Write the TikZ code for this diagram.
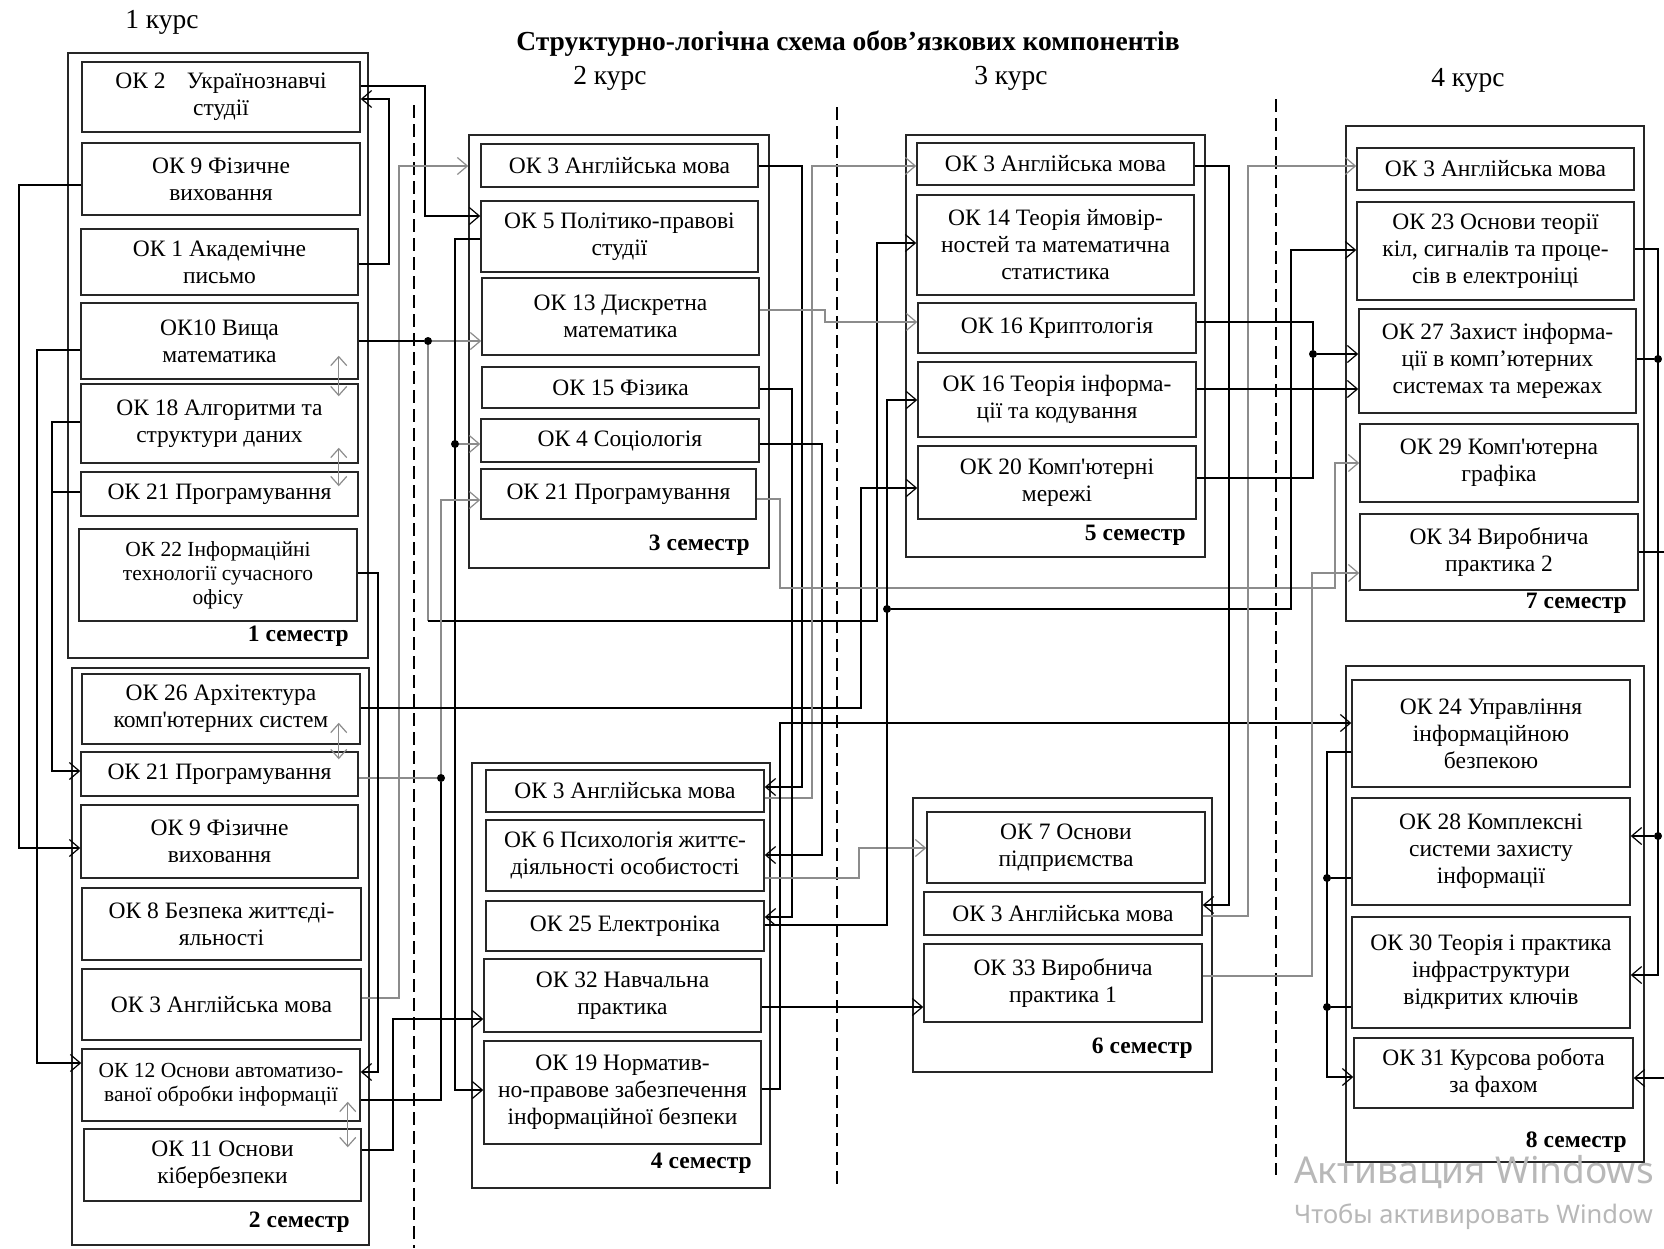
\documentclass[tikz,border=0pt]{standalone}
\usepackage{fontspec}
\setmainfont{Liberation Serif}
\newfontfamily\wmfont{Noto Sans}
\usetikzlibrary{arrows.meta}
\newcommand{\apos}{\textquotesingle}
\tikzset{
  box/.style={draw=black!85, line width=1.5pt, inner sep=0pt, align=center, font={\fontsize{23.5}{27}\selectfont}},
  sbox/.style={box, font={\fontsize{21.5}{24}\selectfont}},
  sem/.style={draw=black!85, line width=1.5pt, inner sep=0pt},
  semlab/.style={anchor=east, inner sep=0pt, font={\bfseries\fontsize{23.5}{27}\selectfont}},
  kurs/.style={inner sep=0pt, font={\fontsize{27.5}{30}\selectfont}},
  conn/.style={line width=1.2pt, draw=black},
  gconn/.style={line width=1.2pt, draw=black!45},
  arr/.style={-{Straight Barb[length=10pt,width=17pt,line width=1.2pt]}},
  dbl/.style={line width=1.2pt, draw=black!45, {Straight Barb[length=9pt,width=16pt,line width=1.2pt]}-{Straight Barb[length=9pt,width=16pt,line width=1.2pt]}},
  jdot/.style={circle, fill=black, inner sep=0pt, minimum size=8pt},
  divline/.style={line width=1.2pt, dash pattern=on 13pt off 6pt},
  wm/.style={inner sep=0pt, anchor=west, text=black!28},
}
\begin{document}
\begin{tikzpicture}[x=1pt,y=-1pt]
\useasboundingbox (0,0) rectangle (1664,1248);
\clip (0,0) rectangle (1664,1248);
\fill[white] (0,0) rectangle (1664,1248);

% titles
\node[inner sep=0pt, font={\bfseries\fontsize{27.5}{30}\selectfont}] (title) at (848,44) {Структурно-логічна схема обов’язкових компонентів};
\node[kurs] (k1) at (162,22) {1 курс};
\node[kurs] (k2) at (610,78) {2 курс};
\node[kurs] (k3) at (1011,78) {3 курс};
\node[kurs] (k4) at (1468,80) {4 курс};

% dividers
\draw[divline] (414,105) -- (414,1248);
\draw[divline] (837,107) -- (837,1188);
\draw[divline] (1276,99) -- (1276,1175);

% semester frames
\node[sem, minimum width=300pt, minimum height=605pt] (s1) at (218,355.5) {};
\node[sem, minimum width=297pt, minimum height=577pt] (s2) at (220.5,956.5) {};
\node[sem, minimum width=300pt, minimum height=433pt] (s3) at (619,351.5) {};
\node[sem, minimum width=298pt, minimum height=425pt] (s4) at (621,975.5) {};
\node[sem, minimum width=299pt, minimum height=422pt] (s5) at (1055.5,346) {};
\node[sem, minimum width=299pt, minimum height=274pt] (s6) at (1062.5,935) {};
\node[sem, minimum width=298pt, minimum height=495pt] (s7) at (1495,373.5) {};
\node[sem, minimum width=298pt, minimum height=496pt] (s8) at (1495,914) {};

% semester 1
\node[box, minimum width=278pt, minimum height=70pt] (ok2) at (221,97) {ОК 2\hspace{0.9em}Українознавчі\\студії};
\node[box, minimum width=278pt, minimum height=72pt] (ok9a) at (221,179) {ОК 9 Фізичне\\виховання};
\node[box, minimum width=277pt, minimum height=66pt] (ok1) at (219.5,262) {ОК 1 Академічне\\письмо};
\node[box, minimum width=277pt, minimum height=76pt] (ok10) at (219.5,341) {ОК10 Вища\\математика};
\node[box, minimum width=277pt, minimum height=79pt] (ok18) at (219.5,423.5) {ОК 18 Алгоритми та\\структури даних};
\node[box, minimum width=277pt, minimum height=44pt] (ok21a) at (219.5,494) {ОК 21 Програмування};
\node[sbox, minimum width=278pt, minimum height=92pt] (ok22) at (218,575) {ОК 22 Інформаційні\\технології сучасного\\офісу};
\node[semlab] (l1) at (349,636) {1 семестр};

% semester 2
\node[box, minimum width=278pt, minimum height=70pt] (ok26) at (221,709) {ОК 26 Архітектура\\комп\apos ютерних систем};
\node[box, minimum width=277pt, minimum height=44pt] (ok21b) at (219.5,774) {ОК 21 Програмування};
\node[box, minimum width=277pt, minimum height=73pt] (ok9b) at (219.5,841.5) {ОК 9 Фізичне\\виховання};
\node[box, minimum width=279pt, minimum height=72pt] (ok8) at (221.5,924) {ОК 8 Безпека життєді-\\яльності};
\node[box, minimum width=279pt, minimum height=71pt] (ok3b) at (221.5,1004.5) {ОК 3 Англійська мова};
\node[sbox, minimum width=278pt, minimum height=72pt] (ok12) at (221,1085) {ОК 12 Основи автоматизо-\\ваної обробки інформації};
\node[box, minimum width=277pt, minimum height=72pt] (ok11) at (222.5,1165) {ОК 11 Основи\\кібербезпеки};
\node[semlab] (l2) at (350,1222) {2 семестр};

% semester 3
\node[box, minimum width=277pt, minimum height=43pt] (ok3c) at (619.5,165.5) {ОК 3 Англійська мова};
\node[box, minimum width=277pt, minimum height=71pt] (ok5) at (619.5,236.5) {ОК 5 Політико-правові\\студії};
\node[box, minimum width=277pt, minimum height=77pt] (ok13) at (620.5,316.5) {ОК 13 Дискретна\\математика};
\node[box, minimum width=277pt, minimum height=41pt] (ok15) at (620.5,387.5) {ОК 15 Фізика};
\node[box, minimum width=278pt, minimum height=43pt] (ok4) at (620,440.5) {ОК 4 Соціологія};
\node[box, minimum width=275pt, minimum height=50pt] (ok21c) at (618.5,494) {ОК 21 Програмування};
\node[semlab] (l3) at (750,545) {3 семестр};

% semester 4
\node[box, minimum width=278pt, minimum height=42pt] (ok3d) at (625,791) {ОК 3 Англійська мова};
\node[box, minimum width=278pt, minimum height=71pt] (ok6) at (625,855.5) {ОК 6 Психологія життє-\\діяльності особистості};
\node[box, minimum width=278pt, minimum height=50pt] (ok25) at (625,926) {ОК 25 Електроніка};
\node[box, minimum width=277pt, minimum height=73pt] (ok32) at (622.5,995.5) {ОК 32 Навчальна\\практика};
\node[box, minimum width=277pt, minimum height=103pt] (ok19) at (622.5,1092.5) {ОК 19 Норматив-\\но-правове забезпечення\\інформаційної безпеки};
\node[semlab] (l4) at (752,1163) {4 семестр};

% semester 5
\node[box, minimum width=277pt, minimum height=42pt] (ok3e) at (1055.5,164) {ОК 3 Англійська мова};
\node[box, minimum width=277pt, minimum height=100pt] (ok14) at (1055.5,245) {ОК 14 Теорія ймовір-\\ностей та математична\\статистика};
\node[box, minimum width=278pt, minimum height=50pt] (ok16a) at (1057,328) {ОК 16 Криптологія};
\node[box, minimum width=278pt, minimum height=75pt] (ok16b) at (1057,399.5) {ОК 16 Теорія інформа-\\ції та кодування};
\node[box, minimum width=278pt, minimum height=73pt] (ok20) at (1057,482.5) {ОК 20 Комп\apos ютерні\\мережі};
\node[semlab] (l5) at (1186,535) {5 семестр};

% semester 6
\node[box, minimum width=278pt, minimum height=71pt] (ok7) at (1066,847.5) {ОК 7 Основи\\підприємства};
\node[box, minimum width=278pt, minimum height=43pt] (ok3f) at (1063,913.5) {ОК 3 Англійська мова};
\node[box, minimum width=278pt, minimum height=78pt] (ok33) at (1063,983) {ОК 33 Виробнича\\практика 1};
\node[semlab] (l6) at (1193,1048) {6 семестр};

% semester 7
\node[box, minimum width=277pt, minimum height=42pt] (ok3g) at (1495.5,169) {ОК 3 Англійська мова};
\node[box, minimum width=277pt, minimum height=98pt] (ok23) at (1495.5,251) {ОК 23 Основи теорії\\кіл, сигналів та проце-\\сів в електроніці};
\node[box, minimum width=277pt, minimum height=104pt] (ok27) at (1497.5,361) {ОК 27 Захист інформа-\\ції в комп’ютерних\\системах та мережах};
\node[box, minimum width=278pt, minimum height=78pt] (ok29) at (1499,463) {ОК 29 Комп\apos ютерна\\графіка};
\node[box, minimum width=278pt, minimum height=76pt] (ok34) at (1499,552) {ОК 34 Виробнича\\практика 2};
\node[semlab] (l7) at (1627,603) {7 семестр};

% semester 8
\node[box, minimum width=278pt, minimum height=107pt] (ok24) at (1491,733.5) {ОК 24 Управління\\інформаційною\\безпекою};
\node[box, minimum width=278pt, minimum height=107pt] (ok28) at (1491,851.5) {ОК 28 Комплексні\\системи захисту\\інформації};
\node[box, minimum width=278pt, minimum height=111pt] (ok30) at (1491,972.5) {ОК 30 Теорія і практика\\інфраструктури\\відкритих ключів};
\node[box, minimum width=279pt, minimum height=70pt] (ok31) at (1493.5,1073) {ОК 31 Курсова робота\\за фахом};
\node[semlab] (l8) at (1627,1142) {8 семестр};

% junction dots
\node[jdot] (d1) at (428,341) {};
\node[jdot] (d2) at (455,444) {};
\node[jdot] (d3) at (441,778) {};
\node[jdot] (d4) at (887,609) {};
\node[jdot] (d5) at (1313,354) {};
\node[jdot] (d6) at (1327,878) {};
\node[jdot] (d7) at (1327,1007) {};
\node[jdot] (d8) at (1658,359) {};
\node[jdot] (d9) at (1658,836) {};

% left loops
\draw[conn,arr] (ok9a.west|-0,185) -- (19,185) -- (19,848) -- (ok9b.west|-0,848);
\draw[conn,arr] (ok10.west|-0,350) -- (37,350) -- (37,1063) -- (ok12.west|-0,1063);
\draw[conn,arr] (ok18.west|-0,422) -- (52,422) -- (52,771) -- (ok21b.west|-0,771);
\draw[conn] (ok21a.west|-0,492) -- (52,492);

% between course 1 and 2
\draw[conn,arr] (ok2.east|-0,86) -- (425,86) -- (425,216) -- (ok5.west|-0,216);
\draw[conn,arr] (ok1.east|-0,264) -- (389,264) -- (389,99) -- (ok2.east|-0,99);
\draw[gconn,arr] (ok3b.east|-0,998) -- (399,998) -- (399,166) -- (s3.west|-0,166);
\draw[conn] (ok10.east|-0,341) -- (d1);
\draw[gconn,arr] (d1) -- (ok13.west|-0,341);
\draw[gconn] (d1) -- (428,621);
\draw[conn,arr] (428,621) -- (877,621) -- (877,243) -- (ok14.west|-0,243);
\draw[conn,arr] (ok5.west|-0,239) -- (455,239) -- (455,1090) -- (ok19.west|-0,1090);
\draw[gconn,arr] (d2) -- (ok4.west|-0,444);
\draw[gconn] (ok21b.east|-0,778) -- (d3);
\draw[gconn,arr] (d3) -- (441,500) -- (ok21c.west|-0,500);
\draw[conn] (ok12.east|-0,1100) -- (441,1100) -- (d3);
\draw[conn,arr] (ok22.east|-0,573) -- (378,573) -- (378,1072) -- (ok12.east|-0,1072);
\draw[conn,arr] (ok11.east|-0,1150) -- (393,1150) -- (393,1019) -- (ok32.west|-0,1019);
\draw[conn,arr] (ok26.east|-0,708) -- (861,708) -- (861,488) -- (ok20.west|-0,488);

% between course 2 and 3
\draw[conn,arr] (ok3c.east|-0,166) -- (802,166) -- (802,787) -- (ok3d.east|-0,787);
\draw[gconn,arr] (ok3d.east|-0,798) -- (812,798) -- (812,166) -- (ok3e.west|-0,166);
\draw[gconn,arr] (ok13.east|-0,310) -- (825,310) -- (825,322) -- (ok16a.west|-0,322);
\draw[conn,arr] (ok15.east|-0,389) -- (792,389) -- (792,917) -- (ok25.east|-0,917);
\draw[conn,arr] (ok4.east|-0,444) -- (822,444) -- (822,855) -- (ok6.east|-0,855);
\draw[gconn,arr] (ok21c.east|-0,499) -- (780,499) -- (780,588) -- (1335,588) -- (1335,463) -- (ok29.west|-0,463);
\draw[conn,arr] (ok19.east|-0,1089) -- (780,1089) -- (780,723) -- (ok24.west|-0,723);
\draw[gconn,arr] (ok6.east|-0,878) -- (859,878) -- (859,848) -- (ok7.west|-0,848);
\draw[conn,arr] (ok25.east|-0,925) -- (887,925) -- (887,400) -- (ok16b.west|-0,400);
\draw[conn,arr] (d4) -- (1291,609) -- (1291,250) -- (ok23.west|-0,250);
\draw[conn,arr] (ok32.east|-0,1007) -- (ok33.west|-0,1007);

% between course 3 and 4
\draw[conn,arr] (ok3e.east|-0,166) -- (1229,166) -- (1229,905) -- (ok3f.east|-0,905);
\draw[gconn,arr] (ok3f.east|-0,916) -- (1248,916) -- (1248,166) -- (ok3g.west|-0,166);
\draw[conn] (ok16a.east|-0,322) -- (1313,322) -- (d5);
\draw[conn] (ok20.east|-0,478) -- (1313,478) -- (d5);
\draw[conn,arr] (d5) -- (ok27.west|-0,354);
\draw[conn,arr] (ok16b.east|-0,389) -- (ok27.west|-0,389);
\draw[gconn,arr] (ok33.east|-0,976) -- (1312,976) -- (1312,573) -- (ok34.west|-0,573);

% semester 8 left bus
\draw[conn,arr] (ok24.west|-0,752) -- (1327,752) -- (1327,1077) -- (ok31.west|-0,1077);
\draw[conn] (d6) -- (ok28.west|-0,878);
\draw[conn] (d7) -- (ok30.west|-0,1007);

% right bus
\draw[conn,arr] (ok23.east|-0,249) -- (1658,249) -- (1658,975) -- (ok30.east|-0,975);
\draw[conn] (ok27.east|-0,359) -- (d8);
\draw[conn,arr] (d9) -- (ok28.east|-0,836);
\draw[conn,arr] (ok34.east|-0,552) -- (1672,552) -- (1672,1078) -- (ok31.east|-0,1078);

% double arrows
\draw[dbl] ([xshift=-20pt,yshift=24pt]ok10.south east) -- ([xshift=-20pt,yshift=-13pt]ok18.north east);
\draw[dbl] ([xshift=-20pt,yshift=16pt]ok18.south east) -- ([xshift=-20pt,yshift=-15pt]ok21a.north east);
\draw[dbl] ([xshift=-22pt,yshift=22pt]ok26.south east) -- ([xshift=-20pt,yshift=-8pt]ok21b.north east);
\draw[dbl] ([xshift=-13pt,yshift=20pt]ok12.south east) -- ([xshift=-14pt,yshift=-19pt]ok11.north east);

% watermark
\node[wm, font={\wmfont\fontsize{37}{40}\selectfont}] (wm1) at (1294,1172) {Активация Windows};
\node[wm, font={\wmfont\fontsize{25.5}{28}\selectfont}] (wm2) at (1294,1217) {Чтобы активировать Window};
\end{tikzpicture}
\end{document}
